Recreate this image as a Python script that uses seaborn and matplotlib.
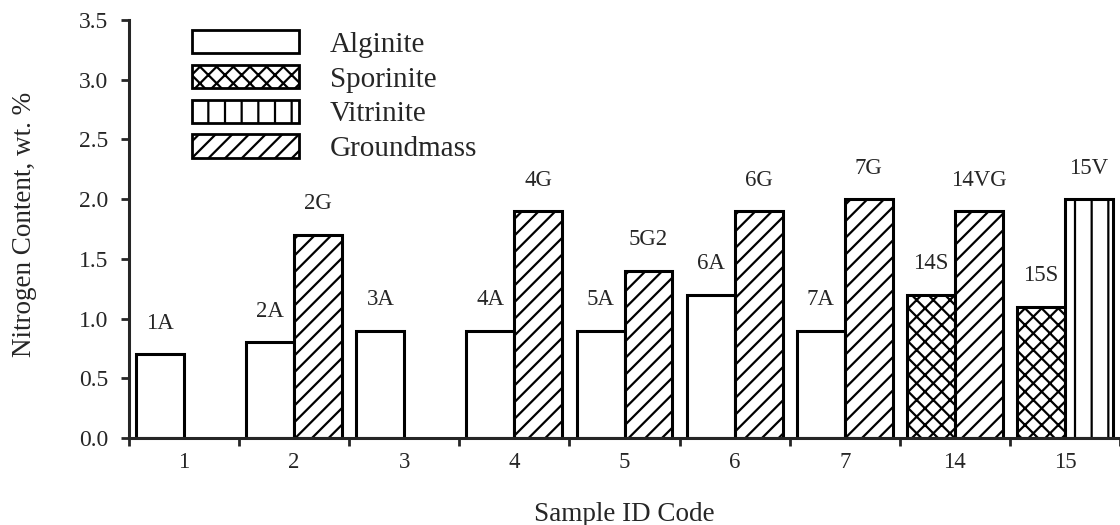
import matplotlib
matplotlib.use("Agg")
import matplotlib.pyplot as plt
import matplotlib.patches as mpatches
import numpy as np
import pandas as pd
import seaborn as sns

# sample groups on the x axis
samples = ['1', '2', '3', '4', '5', '6', '7', '14', '15']

# left bar of each group
left_maceral = ['Alginite'] * 7 + ['Sporinite'] * 2
left_value = [0.7, 0.8, 0.9, 0.9, 0.9, 1.2, 0.9, 1.2, 1.1]
left_label = ['1A', '2A', '3A', '4A', '5A', '6A', '7A', '14S', '15S']

# right bar (only some samples have one)
right_samples = ['2', '4', '5', '6', '7', '14', '15']
right_maceral = ['Groundmass'] * 6 + ['Vitrinite']
right_value = [1.7, 1.9, 1.4, 1.9, 2.0, 1.9, 2.0]
right_label = ['2G', '4G', '5G2', '6G', '7G', '14VG', '15V']

legend_order = ['Alginite', 'Sporinite', 'Vitrinite', 'Groundmass']
hatches = {'Alginite': '', 'Sporinite': 'xx', 'Vitrinite': '|', 'Groundmass': '//'}

rows = []
for s, m, v, l in zip(samples, left_maceral, left_value, left_label):
    rows.append({'sample': s, 'slot': 'L', 'maceral': m, 'value': v, 'label': l})
for s, m, v, l in zip(right_samples, right_maceral, right_value, right_label):
    rows.append({'sample': s, 'slot': 'R', 'maceral': m, 'value': v, 'label': l})
df = pd.DataFrame(rows)

sns.set_style('ticks')
plt.rcParams['font.family'] = ['Liberation Serif', 'DejaVu Serif']
plt.rcParams['hatch.linewidth'] = 1.6
plt.rcParams['hatch.color'] = 'black'

fig = plt.figure(figsize=(11.2, 5.25), dpi=100)
ax = fig.add_axes([129 / 1120, 1 - 438 / 525, (1120 - 129) / 1120, (438 - 20) / 525])

sns.barplot(data=df, x='sample', y='value', hue='slot', order=samples,
            hue_order=['L', 'R'], palette=['white', 'white'], width=0.87,
            errorbar=None, edgecolor='black', linewidth=2.2, legend=False,
            saturation=1, ax=ax)

# hatch each bar by its maceral and put the code above it
for p in ax.patches:
    cx = p.get_x() + p.get_width() / 2
    idx = int(round(cx))
    slot = 'L' if cx < idx else 'R'
    hit = df[(df['sample'] == samples[idx]) & (df['slot'] == slot)]
    if hit.empty:
        continue
    r = hit.iloc[0]
    p.set_hatch(hatches[r['maceral']])
    ax.text(cx, r['value'] + 0.26, r['label'], ha='center', va='center', fontsize=16.5)

ax.set_ylim(0, 3.5)
ax.set_xlim(-0.5, 8.44)
ax.set_yticks(np.arange(0, 3.51, 0.5))
ax.set_yticklabels([f'{t:.1f}' for t in np.arange(0, 3.51, 0.5)])
ax.set_xticks(range(len(samples)))
ax.set_xticklabels(samples)
ax.set_xticks(np.arange(-0.5, len(samples), 1), minor=True)

ax.tick_params(axis='x', which='major', length=0, pad=10, labelsize=16.5)
ax.tick_params(axis='x', which='minor', length=6, width=2, direction='out')
ax.tick_params(axis='y', length=6, width=2, direction='out', pad=9, labelsize=17)

for side in ['top', 'right']:
    ax.spines[side].set_visible(False)
for side in ['left', 'bottom']:
    ax.spines[side].set_linewidth(2.2)

ax.set_xlabel('Sample ID Code', fontsize=19.5)
ax.set_ylabel('Nitrogen Content, wt. %', fontsize=19.5)
ax.xaxis.set_label_coords(0.5, -0.153)
ax.yaxis.set_label_coords(-0.093, 0.512)

handles = [mpatches.Patch(facecolor='white', edgecolor='black', linewidth=2,
                          hatch=hatches[m], label=m) for m in legend_order]
fig.legend(handles=handles, loc='upper left', bbox_to_anchor=(192 / 1120, 1 - 30 / 525),
           frameon=False, fontsize=21, handlelength=3.66, handleheight=0.86,
           labelspacing=0.24, handletextpad=1.07, borderpad=0, borderaxespad=0)

fig.savefig('out.png', dpi=100)
plt.close(fig)
